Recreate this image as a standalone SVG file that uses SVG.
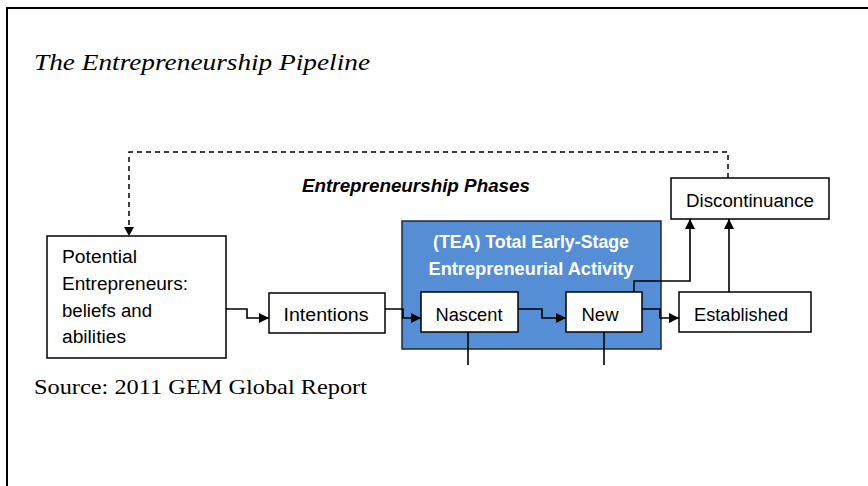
<svg xmlns="http://www.w3.org/2000/svg" width="868" height="486" viewBox="0 0 868 486">
  <style>
    .box { fill: #ffffff; stroke: #000000; stroke-width: 1.5; }
    .lbl { font-family: "Liberation Sans", Arial, sans-serif; font-size: 18px; fill: #000000; }
    .mid { text-anchor: middle; }
    .conn { fill: none; stroke: #000000; stroke-width: 1.6; }
    .dash { fill: none; stroke: #000000; stroke-width: 1.5; stroke-dasharray: 5 4; }
    .serif { font-family: "Liberation Serif", "Times New Roman", serif; fill: #000000; }
  </style>
  <defs>
    <marker id="arrow" viewBox="0 0 10 10" refX="10" refY="5" markerWidth="10" markerHeight="10" markerUnits="userSpaceOnUse" orient="auto">
      <path d="M0,0 L10,5 L0,10 Z" fill="#000000"/>
    </marker>
  </defs>

  <!-- page frame -->
  <rect x="7" y="8" width="880" height="500" fill="#ffffff" stroke="#000000" stroke-width="2"/>

  <text class="serif" x="34" y="70" font-size="23" font-style="italic" textLength="336" lengthAdjust="spacingAndGlyphs">The Entrepreneurship Pipeline</text>
  <text class="serif" x="34" y="394" font-size="21" textLength="333" lengthAdjust="spacingAndGlyphs">Source: 2011 GEM Global Report</text>

  <text class="lbl" x="302" y="192" font-weight="bold" font-style="italic" textLength="228" lengthAdjust="spacingAndGlyphs">Entrepreneurship Phases</text>

  <!-- TEA container -->
  <g id="tea">
    <rect x="402" y="221" width="259" height="128" fill="#558ED5" stroke="#1e2a3a" stroke-width="1.5"/>
    <text class="lbl mid" x="531" y="248" font-weight="bold" textLength="196" lengthAdjust="spacingAndGlyphs" style="fill:#ffffff">(TEA) Total Early-Stage</text>
    <text class="lbl mid" x="531" y="275" font-weight="bold" textLength="205" lengthAdjust="spacingAndGlyphs" style="fill:#ffffff">Entrepreneurial Activity</text>
  </g>

  <g id="potential">
    <rect class="box" x="47" y="236" width="179" height="122"/>
    <text class="lbl" x="62" y="263" textLength="75" lengthAdjust="spacingAndGlyphs">Potential</text>
    <text class="lbl" x="62" y="290" textLength="126" lengthAdjust="spacingAndGlyphs">Entrepreneurs:</text>
    <text class="lbl" x="62" y="317" textLength="90" lengthAdjust="spacingAndGlyphs">beliefs and</text>
    <text class="lbl" x="62" y="343" textLength="64" lengthAdjust="spacingAndGlyphs">abilities</text>
  </g>

  <g id="intentions">
    <rect class="box" x="269" y="293" width="116" height="40"/>
    <text class="lbl mid" x="326" y="321" textLength="85" lengthAdjust="spacingAndGlyphs">Intentions</text>
  </g>

  <g id="nascent">
    <rect class="box" x="421" y="292" width="97" height="40"/>
    <text class="lbl mid" x="469" y="321" textLength="67" lengthAdjust="spacingAndGlyphs">Nascent</text>
  </g>

  <g id="new">
    <rect class="box" x="566" y="292" width="76" height="40"/>
    <text class="lbl mid" x="600" y="321" textLength="37" lengthAdjust="spacingAndGlyphs">New</text>
  </g>

  <g id="established">
    <rect class="box" x="679" y="292" width="132" height="40"/>
    <text class="lbl mid" x="741" y="321" textLength="94" lengthAdjust="spacingAndGlyphs">Established</text>
  </g>

  <g id="discontinuance">
    <rect class="box" x="671" y="178" width="158" height="41"/>
    <text class="lbl mid" x="750" y="207" textLength="128" lengthAdjust="spacingAndGlyphs">Discontinuance</text>
  </g>

  <g id="connectors">
    <path class="dash" d="M728,178 V152 H129 V228" />
    <path d="M124,227 L134,227 L129,236 Z" fill="#000000"/>
    <path class="conn" d="M226,309 H247 V318 H269" marker-end="url(#arrow)"/>
    <path class="conn" d="M385,309 H403 V318 H421" marker-end="url(#arrow)"/>
    <path class="conn" d="M518,309 H542 V318 H566" marker-end="url(#arrow)"/>
    <path class="conn" d="M642,309 H660 V318 H679" marker-end="url(#arrow)"/>
    <path class="conn" d="M634,292 V281 H690 V219" marker-end="url(#arrow)"/>
    <path class="conn" d="M729,292 V219" marker-end="url(#arrow)"/>
    <path class="conn" d="M468,332 V365"/>
    <path class="conn" d="M604,332 V365"/>
  </g>
</svg>
